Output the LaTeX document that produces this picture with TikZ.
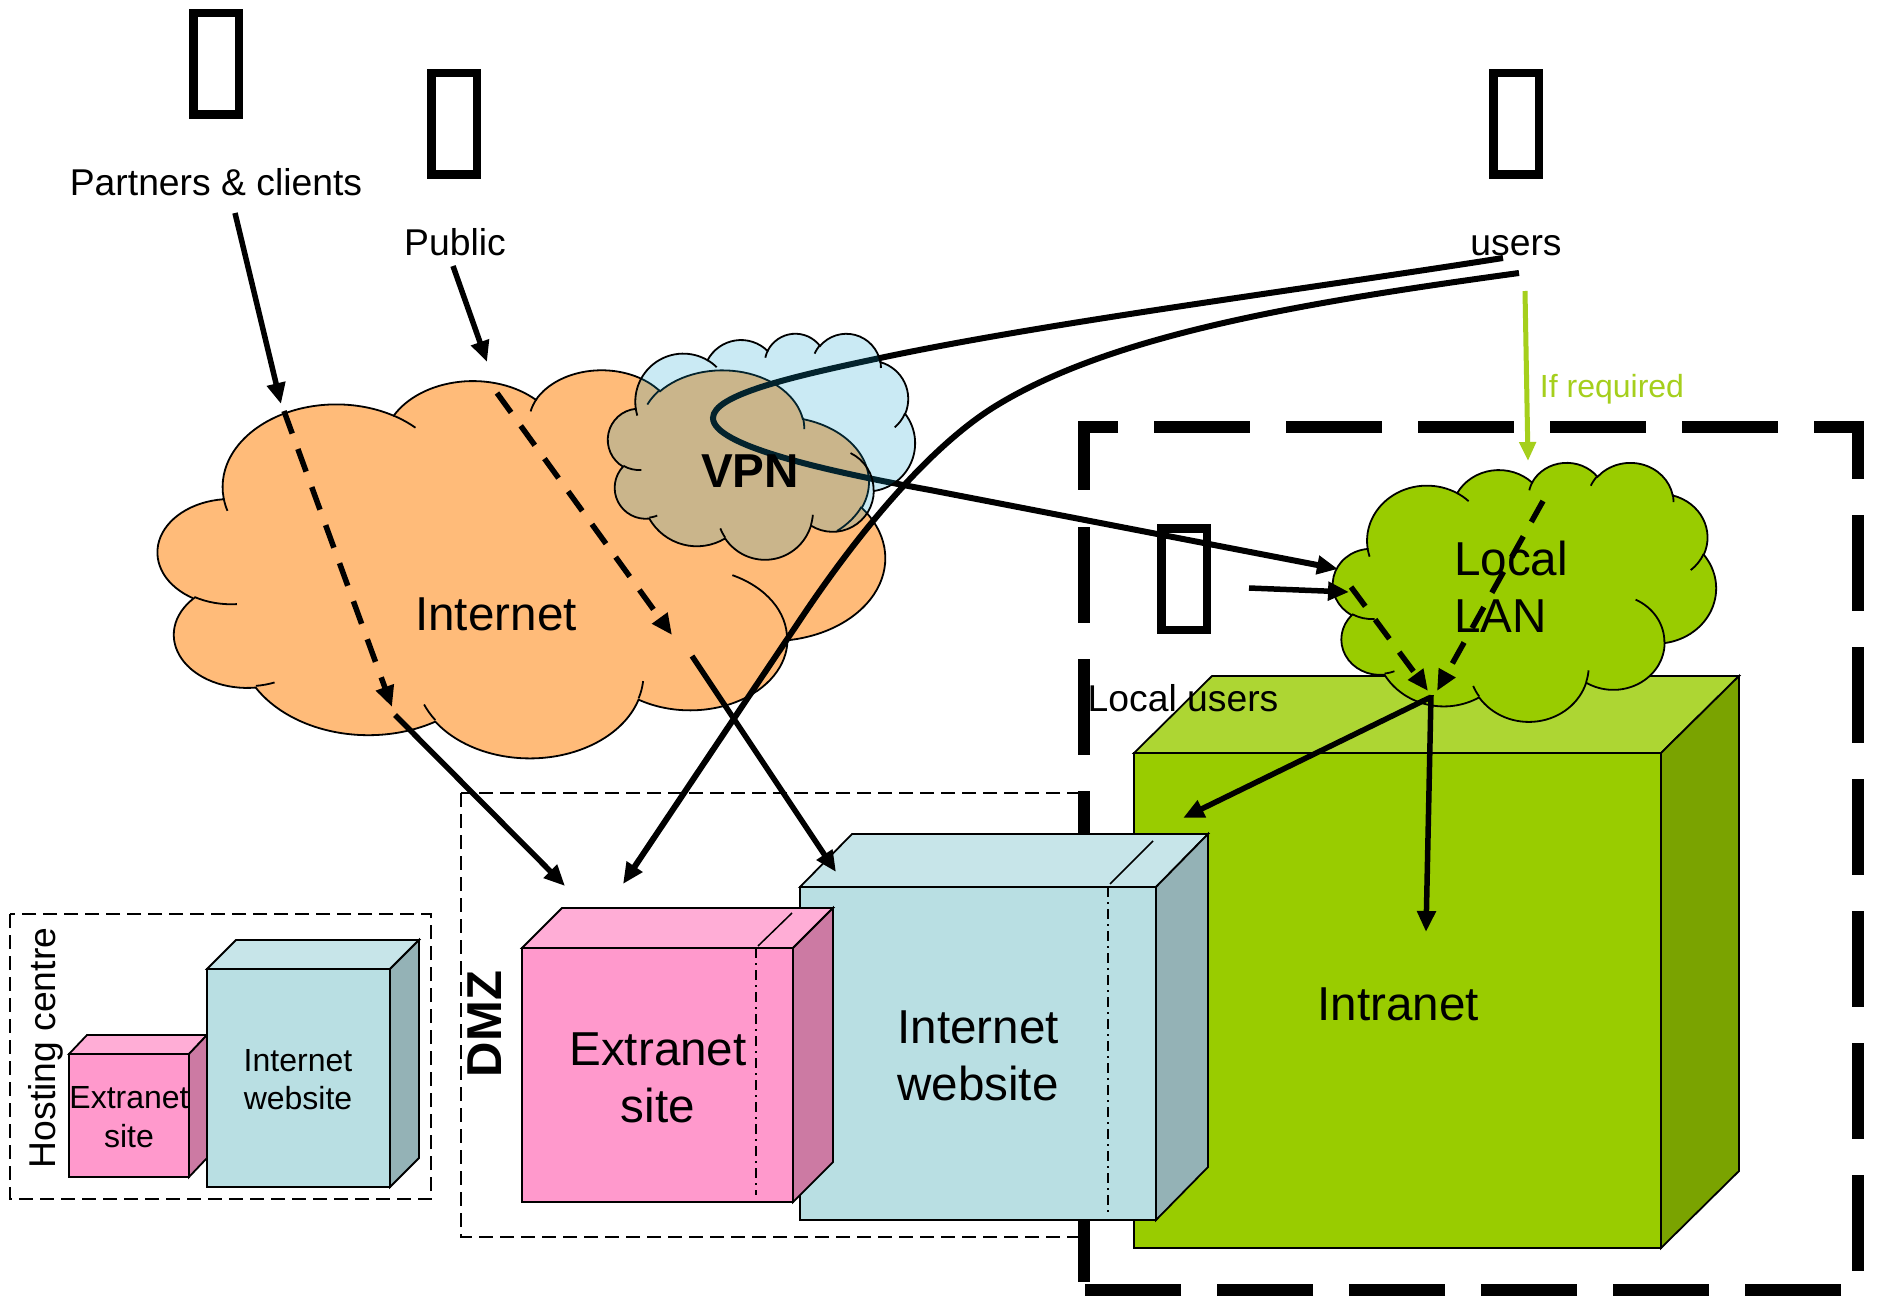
\documentclass[tikz,border=0pt]{standalone}
\usepackage{fontspec}
\setmainfont{Liberation Sans}
\usetikzlibrary{arrows.meta}
\definecolor{orangeC}{HTML}{FFBB79}
\definecolor{blueC}{HTML}{0FA0CD}
\definecolor{greenF}{HTML}{99CC00}
\definecolor{greenT}{HTML}{ADD633}
\definecolor{greenS}{HTML}{7AA300}
\definecolor{tealF}{HTML}{B9DFE3}
\definecolor{tealT}{HTML}{C7E5E9}
\definecolor{tealS}{HTML}{94B2B6}
\definecolor{pinkF}{HTML}{FF99CC}
\definecolor{pinkT}{HTML}{FFADD6}
\definecolor{pinkS}{HTML}{CC7AA3}
\definecolor{reqC}{HTML}{A5CF1C}
% PowerPoint-like cloud outline
\newcommand\clsetup[4]{\pgfmathsetmacro\clx{#1}\pgfmathsetmacro\cly{#2}\pgfmathsetmacro\clsx{#3/432}\pgfmathsetmacro\clsy{#4/432}}
\newcommand\clmove[2]{\pgfmathsetmacro\curx{\clx+#1*\clsx}\pgfmathsetmacro\cury{\cly+#2*\clsy}\pgfpathmoveto{\pgfqpoint{\curx pt}{-\cury pt}}}
\newcommand\clseg{%
  \pgfmathsetmacro\bb{\aa+\stp}%
  \pgfmathsetmacro\cax{\curx-\kk*\rx*sin(\aa)}%
  \pgfmathsetmacro\cay{\cury+\kk*\ry*cos(\aa)}%
  \pgfmathsetmacro\ex{\ccx+\rx*cos(\bb)}%
  \pgfmathsetmacro\ey{\ccy+\ry*sin(\bb)}%
  \pgfmathsetmacro\cbx{\ex+\kk*\rx*sin(\bb)}%
  \pgfmathsetmacro\cby{\ey-\kk*\ry*cos(\bb)}%
  \pgfpathcurveto{\pgfqpoint{\cax pt}{-\cay pt}}{\pgfqpoint{\cbx pt}{-\cby pt}}{\pgfqpoint{\ex pt}{-\ey pt}}%
  \let\curx\ex\let\cury\ey\let\aa\bb}
\newcommand\clarc[4]{%
  \pgfmathsetmacro\rx{#1*\clsx}\pgfmathsetmacro\ry{#2*\clsy}%
  \pgfmathsetmacro\tone{atan2(#1*sin(#3),#2*cos(#3))}%
  \pgfmathsetmacro\ttwo{atan2(#1*sin(#3+#4),#2*cos(#3+#4))}%
  \pgfmathsetmacro\dlt{mod(\ttwo-\tone+720,360)}%
  \pgfmathsetmacro\ccx{\curx-\rx*cos(\tone)}%
  \pgfmathsetmacro\ccy{\cury-\ry*sin(\tone)}%
  \pgfmathsetmacro\stp{\dlt/4}%
  \pgfmathsetmacro\kk{4/3*tan(\stp/4)}%
  \let\aa\tone
  \clseg\clseg\clseg\clseg}
\newcommand\clbody{%
  \clmove{39}{143.7}%
  \clarc{67.53}{91.90}{-190.4875}{123.7805}%
  \clarc{53.33}{72.67}{-144.1024}{89.9452}%
  \clarc{43.65}{59.45}{-145.8079}{99.7230}%
  \clarc{48.57}{65.95}{-130.9861}{117.2417}%
  \clarc{53.33}{72.73}{-78.7089}{109.0269}%
  \clarc{67.75}{92.20}{-46.2673}{130.2690}%
  \clarc{57.85}{78.67}{0.6250}{114.0333}%
  \clarc{67.52}{92.15}{22.4516}{115.1726}%
  \clarc{77.20}{105.43}{66.2426}{75.7110}%
  \clarc{43.60}{59.18}{-274.9421}{146.7356}%
  \clarc{43.45}{59.45}{-246.8285}{152.5189}%
  \pgfpathclose}
\newcommand\clinner{%
  \clmove{46.93}{261.77}\clarc{43.45}{59.45}{86.7420}{26.4295}%
  \clmove{69.28}{348.99}\clarc{43.60}{59.18}{73.6105}{11.4475}%
  \clmove{164.78}{390.90}\clarc{67.52}{92.15}{137.6242}{14.0811}%
  \clmove{288.27}{347.51}\clarc{67.52}{92.15}{6.4533}{15.9984}%
  \clmove{341.29}{229.54}\clarc{57.85}{78.67}{-70.2924}{70.9174}%
  \clmove{417.98}{153.54}\clarc{53.33}{72.73}{30.3180}{27.7515}%
  \clmove{383.24}{54.26}\clarc{48.57}{65.95}{-13.7443}{14.8589}%
  \clmove{290.78}{39.52}\clarc{48.57}{65.95}{-149.1815}{18.1954}%
  \clmove{221.41}{47.20}\clarc{43.65}{59.45}{-163.4943}{17.6864}%
  \clmove{140.00}{51.92}\clarc{67.53}{91.90}{-66.7070}{12.3194}%
  \clmove{41.27}{157.89}\clarc{67.53}{91.90}{157.6544}{11.8582}}
\newcommand\cloudshape[6]{% x y w h fill fillopacity
  \begin{pgfscope}
  \pgfsetlinewidth{1.8pt}\pgfsetfillcolor{#5}\pgfsetstrokecolor{black}\pgfsetfillopacity{#6}
  \clsetup{#1}{#2}{#3}{#4}\clbody\pgfusepath{fill,stroke}
  \clsetup{#1}{#2}{#3}{#4}\clinner\pgfusepath{stroke}
  \end{pgfscope}}
\newcommand\cube[9]{% x1 y1 x2 y2 dx dy front top side
  \draw[cubeline,fill=#7] (#1,#2) rectangle (#3,#4);
  \draw[cubeline,fill=#8] (#1,#2) -- ++(#5,-#6) -- ++(#3-#1,0) -- (#3,#2) -- cycle;
  \draw[cubeline,fill=#9] (#3,#2) -- ++(#5,-#6) -- ++(0,#4-#2) -- (#3,#4) -- cycle;}
\tikzset{
  cubeline/.style={draw=black,line width=1.8pt,line join=miter},
  thinframe/.style={draw=black,line width=1.8pt,dash pattern=on 14pt off 7pt},
  thickframe/.style={draw=black,line width=12pt,line join=miter,dash pattern=on 96pt off 36pt},
  solidarrow/.style={draw=black,line width=5.5pt,-{Triangle[length=21pt,width=18pt]}},
  dasharrow/.style={solidarrow,dash pattern=on 24pt off 16.5pt},
  thickcurve/.style={line width=6pt},
  greenarrow/.style={draw=reqC,line width=5pt,-{Triangle[length=19pt,width=16pt]}},
  dashdot/.style={draw=black,line width=1.5pt,dash pattern=on 10pt off 5pt on 1.5pt off 5.5pt},
  tofu/.style={draw=black,line width=8.5pt,fill=none,minimum width=45.5pt,minimum height=101.5pt,inner sep=0pt},
  lab/.style={inner sep=0pt,align=center,font=\fontsize{37.3}{44}\selectfont},
  big/.style={inner sep=0pt,align=center,font=\fontsize{47.6}{57}\selectfont},
  small/.style={inner sep=0pt,align=center,font=\fontsize{32}{38.5}\selectfont},
}
\begin{document}
\begin{tikzpicture}[x=1pt,y=-1pt]
\useasboundingbox[fill=white] (0,0) rectangle (1878,1297);
% connector ends
\coordinate (a1) at (235,213); \coordinate (a2) at (281,404);
\coordinate (b1) at (453,266); \coordinate (b2) at (487,362);
\coordinate (c1) at (284,411); \coordinate (c2) at (392,707);
\coordinate (d1) at (497,393); \coordinate (d2) at (672,635);
\coordinate (e1) at (395,715); \coordinate (e2) at (565,886);
\coordinate (f1) at (692,656); \coordinate (f2) at (836,872);
\coordinate (g1) at (1525,291); \coordinate (g2) at (1528,461);
\coordinate (h1) at (1249,588); \coordinate (h2) at (1349,592);
\coordinate (i1) at (1351,587); \coordinate (i2) at (1428,691);
\coordinate (j1) at (1543,501); \coordinate (j2) at (1437,691);
\coordinate (k1) at (1429,698); \coordinate (k2) at (1183,818);
\coordinate (l1) at (1431,695); \coordinate (l2) at (1426,932);
\coordinate (m1) at (1503,258); \coordinate (mu) at (880,358); \coordinate (mt) at (713,418); \coordinate (ml) at (930,490); \coordinate (m2) at (1338,569);
\coordinate (n1) at (1519,273); \coordinate (nu) at (994,407); \coordinate (nm) at (800,620); \coordinate (n2) at (623,884);
% frames
\draw[thinframe] (10,914) rectangle (431,1199);
\draw[thinframe] (461,793) rectangle (1083,1237);
\draw[thickframe] (1154,427) -- (1858,427) -- (1858,1290) -- (1084,1290);
\draw[thickframe] (1084,527) -- (1084,1282);
\draw[draw=black,line width=12pt,line join=miter] (1118,427) -- (1084,427) -- (1084,490);
% cubes
\cube{1134}{753}{1661}{1248}{78}{77}{greenF}{greenT}{greenS}
\cube{800}{887}{1156}{1220}{52}{53}{tealF}{tealT}{tealS}
\draw[dashdot] (1108,887) -- (1108,1212);
\draw[draw=black,line width=1.5pt] (1110,884) -- (1153,841);
\cube{522}{948}{793}{1202}{40}{40}{pinkF}{pinkT}{pinkS}
\draw[dashdot] (756,948) -- (756,1195);
\draw[draw=black,line width=1.5pt] (758,946) -- (792,913);
\cube{69}{1054}{189}{1177}{18}{19}{pinkF}{pinkT}{pinkS}
\cube{207}{969}{390}{1187}{29}{29}{tealF}{tealT}{tealS}
% tofu boxes
\node[tofu] (p1) at (216,64) {};
\node[tofu] (p2) at (454,124) {};
\node[tofu] (p3) at (1516,124) {};
\node[tofu] (p4) at (1184,579) {};
% clouds and the VPN curve beneath the translucent VPN cloud
\cloudshape{1333}{462}{383}{259}{greenF}{1}
\cloudshape{158}{369}{727}{388}{orangeC}{1}
\draw[solidarrow,thickcurve] (m1) .. controls (1300,290) and (1050,322) .. (mu) .. controls (790,377) and (713,395) .. (mt) .. controls (713,445) and (820,470) .. (ml) -- (m2);
\cloudshape{608}{333}{307}{226}{blueC}{0.22}
% labels
\node[lab] (partners) at (216,182) {Partners \& clients};
\node[lab] (public) at (455,242) {Public};
\node[lab] (users) at (1516,246) {users};
\node[lab] (localusers) at (1183,698) {Local users};
\node[small,text=reqC] (req) at (1612,389) {If required};
\node[big] (internet) at (496,614) {Internet};
\node[big] (intranet) at (1398,1004) {Intranet};
\node[big,font=\bfseries\fontsize{47.6}{57}\selectfont] (vpn) at (750,471) {VPN};
\node[big,align=left,anchor=west] (lan) at (1454,587) {Local\\LAN};
\node[big] (extsite) at (658,1078) {Extranet\\site};
\node[big] (website) at (978,1056) {Internet\\website};
\node[small] (extsmall) at (129,1117) {Extranet\\site};
\node[small] (websmall) at (298,1079.5) {Internet\\website};
\node[lab,rotate=90] (hosting) at (46,1048) {Hosting centre};
\node[big,rotate=90,font=\bfseries\fontsize{49}{57}\selectfont] (dmz) at (485,1024) {DMZ};
% connectors
\draw[solidarrow] (a1) -- (a2);
\draw[solidarrow] (b1) -- (b2);
\draw[dasharrow] (c1) -- (c2);
\draw[dasharrow] (d1) -- (d2);
\draw[solidarrow] (e1) -- (e2);
\draw[solidarrow] (f1) -- (f2);
\draw[greenarrow] (g1) -- (g2);
\draw[solidarrow] (h1) -- (h2);
\draw[dasharrow] (i1) -- (i2);
\draw[dasharrow] (j1) -- (j2);
\draw[solidarrow] (k1) -- (k2);
\draw[solidarrow] (l1) -- (l2);
\draw[solidarrow,thickcurve] (n1) .. controls (1300,303) and (1110,335) .. (nu) .. controls (930,447) and (860,530) .. (nm) -- (n2);
\end{tikzpicture}
\end{document}
